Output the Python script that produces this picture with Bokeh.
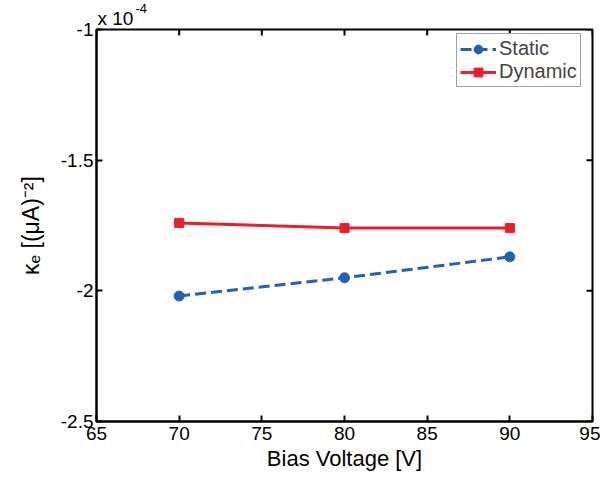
import math
from bokeh.plotting import figure
from bokeh.models import FixedTicker, Range1d, Title
from bokeh.embed import file_html
from bokeh.resources import INLINE

# Data (kappa_e in units of 1e-4 (uA)^-2)
bias_voltage = [70, 80, 90]
static_vals = [-2.02, -1.95, -1.87]
dynamic_vals = [-1.74, -1.76, -1.76]
x_ticks = [65, 70, 75, 80, 85, 90, 95]
y_ticks = [-2.5, -2.0, -1.5, -1.0]
y_tick_labels = {-2.5: "-2.5", -2.0: "-2", -1.5: "-1.5", -1.0: "-1"}

FONT = "Liberation Sans"
BLUE = "#2262B4"
RED = "#EE1C2A"

xr = Range1d(65, 95)
yr = Range1d(-2.5, -1.0)
p = figure(width=600, height=473, output_backend="svg", toolbar_location=None,
           x_range=xr, y_range=yr,
           min_border_left=96, min_border_right=8, min_border_top=29, min_border_bottom=52)
p.background_fill_color = "white"
p.border_fill_color = "white"
p.outline_line_color = "black"
p.outline_line_width = 2
p.xgrid.visible = False
p.ygrid.visible = False

for ax in (p.xaxis[0], p.yaxis[0]):
    ax.axis_line_color = "black"
    ax.axis_line_width = 2
    ax.major_tick_in = 6
    ax.major_tick_out = 0
    ax.major_tick_line_width = 2
    ax.minor_tick_line_color = None
    ax.major_label_text_font = FONT
    ax.major_label_text_color = "black"
    ax.major_label_text_font_size = "19px"
    ax.axis_label_text_font = FONT
    ax.axis_label_text_font_style = "normal"
    ax.axis_label_text_color = "black"

xa = p.xaxis[0]
ya = p.yaxis[0]
xa.ticker = FixedTicker(ticks=x_ticks)
ya.ticker = FixedTicker(ticks=y_ticks)
ya.major_label_overrides = y_tick_labels
xa.major_label_standoff = 5
ya.major_label_standoff = 3
xa.axis_label = "Bias Voltage [V]"
xa.axis_label_text_font_size = "22px"
xa.axis_label_standoff = 3
ya.axis_label = "κₑ [(μA)⁻²]"
ya.axis_label_text_font_size = "23px"
ya.axis_label_standoff = 14

# Exponent multiplier shown above the top-left corner
p.add_layout(Title(text="x 10", align="left", offset=1, standoff=2,
                   text_font=FONT, text_font_size="19px",
                   text_font_style="normal", text_color="black"), "above")
p.add_layout(Title(text="-4", align="left", offset=39, standoff=-17,
                   text_font=FONT, text_font_size="13px",
                   text_font_style="normal", text_color="black"), "above")

# Mirror tick marks on top and right edges (clipped to the frame)
p.scatter(x_ticks, [yr.end] * len(x_ticks), marker="dash", angle=math.pi / 2,
          size=12, line_color="black", line_width=2)
p.scatter([xr.end] * len(y_ticks), y_ticks, marker="dash",
          size=12, line_color="black", line_width=2)

p.line(bias_voltage, static_vals, line_color=BLUE, line_width=3, line_dash="11 5",
       legend_label="Static")
p.scatter(bias_voltage, static_vals, marker="circle", size=10, fill_color=BLUE,
          line_color=BLUE, legend_label="Static")
p.line(bias_voltage, dynamic_vals, line_color=RED, line_width=3, legend_label="Dynamic")
p.scatter(bias_voltage, dynamic_vals, marker="square", size=9, fill_color=RED,
          line_color=RED, legend_label="Dynamic")

leg = p.legend[0]
leg.location = (360, 334)
leg.margin = 0
leg.padding = 3
leg.spacing = 0
leg.glyph_width = 36
leg.glyph_height = 22
leg.label_standoff = 3
leg.label_text_font = FONT
leg.label_text_font_size = "20px"
leg.label_height = 22
leg.border_line_color = "#444444"
leg.border_line_width = 1
leg.background_fill_color = "white"

open("out.html", "w").write(file_html(p, INLINE))
